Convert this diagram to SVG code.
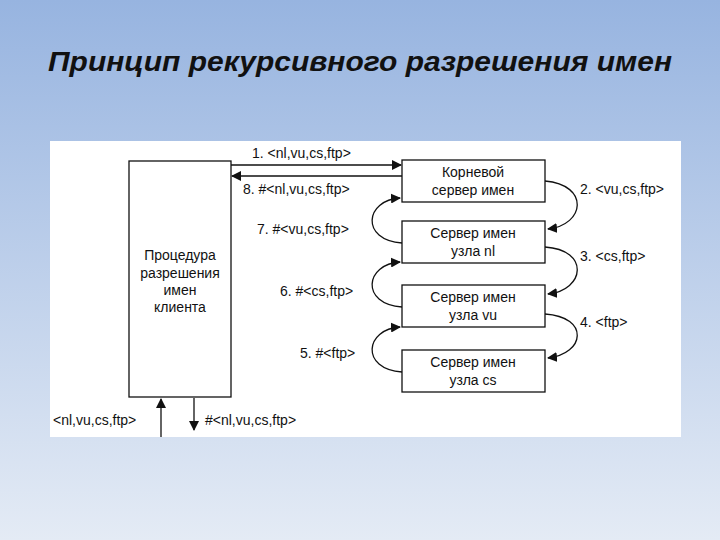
<svg xmlns="http://www.w3.org/2000/svg" width="720" height="540" viewBox="0 0 720 540">
<defs>
<linearGradient id="bg" x1="0" y1="0" x2="0" y2="1">
<stop offset="0" stop-color="#97b4e0"/><stop offset="1" stop-color="#e4ebf5"/>
</linearGradient>
<marker id="ah" viewBox="0 0 10 10" refX="9" refY="5" markerWidth="10" markerHeight="10" orient="auto" markerUnits="userSpaceOnUse"><path d="M0,0 L10,5 L0,10 z" fill="#111"/></marker>
<style>
.b{fill:#fff;stroke:#111;stroke-width:1.3}
.t{font-family:"Liberation Sans",Arial,sans-serif;font-size:14px;fill:#111}
.c{stroke:#111;stroke-width:1.3;fill:none;marker-end:url(#ah)}
</style>
</defs>
<rect width="720" height="540" fill="url(#bg)"/>
<text x="48" y="71" textLength="624" lengthAdjust="spacingAndGlyphs" font-family="Liberation Sans,Arial,sans-serif" font-size="28" font-style="italic" font-weight="bold" fill="#111">Принцип рекурсивного разрешения имен</text>
<rect x="50" y="141" width="631" height="296" fill="#fff"/>
<g id="client"><rect class="b" x="129" y="161" width="102" height="236"/>
<text class="t" text-anchor="middle"><tspan x="180" y="260">Процедура</tspan><tspan x="180" y="278">разрешения</tspan><tspan x="180" y="295">имен</tspan><tspan x="180" y="312">клиента</tspan></text></g>
<g id="root"><rect class="b" x="402" y="160" width="143" height="42"/><text class="t" text-anchor="middle"><tspan x="473" y="177">Корневой</tspan><tspan x="473" y="195">сервер имен</tspan></text></g>
<g id="nl"><rect class="b" x="402" y="221" width="143" height="42"/><text class="t" text-anchor="middle"><tspan x="473" y="238">Сервер имен</tspan><tspan x="473" y="256">узла nl</tspan></text></g>
<g id="vu"><rect class="b" x="402" y="285" width="143" height="42"/><text class="t" text-anchor="middle"><tspan x="473" y="302">Сервер имен</tspan><tspan x="473" y="320">узла vu</tspan></text></g>
<g id="cs"><rect class="b" x="402" y="350" width="143" height="42"/><text class="t" text-anchor="middle"><tspan x="473" y="367">Сервер имен</tspan><tspan x="473" y="385">узла cs</tspan></text></g>
<g id="connectors">
<path class="c" d="M231,165 H401"/>
<path class="c" d="M402,176 H232"/>
<path class="c" d="M545,181 C590,185 585,225 548,229"/>
<path class="c" d="M545,247 C590,250 585,290 548,294"/>
<path class="c" d="M545,314 C590,317 585,354 548,358"/>
<path class="c" d="M402,243 C360,240 365,200 400,198"/>
<path class="c" d="M402,307 C360,304 365,264 400,262"/>
<path class="c" d="M402,372 C360,369 365,329 400,327"/>
<path class="c" d="M161,437 V399"/>
<path class="c" d="M194,398 V430"/>
</g>
<g>
<text class="t" x="252" y="158">1. &lt;nl,vu,cs,ftp&gt;</text>
<text class="t" x="243" y="194">8. #&lt;nl,vu,cs,ftp&gt;</text>
<text class="t" x="257" y="234">7. #&lt;vu,cs,ftp&gt;</text>
<text class="t" x="280" y="296">6. #&lt;cs,ftp&gt;</text>
<text class="t" x="300" y="358">5. #&lt;ftp&gt;</text>
<text class="t" x="580" y="194">2. &lt;vu,cs,ftp&gt;</text>
<text class="t" x="580" y="261">3. &lt;cs,ftp&gt;</text>
<text class="t" x="580" y="327">4. &lt;ftp&gt;</text>
<text class="t" x="53" y="425">&lt;nl,vu,cs,ftp&gt;</text>
<text class="t" x="205" y="425">#&lt;nl,vu,cs,ftp&gt;</text>
</g>
</svg>
